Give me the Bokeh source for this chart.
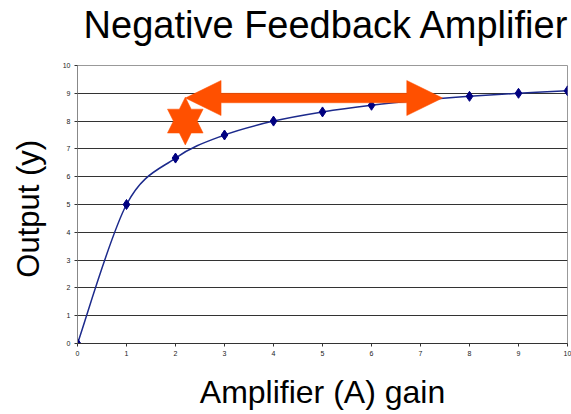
import numpy as np
from bokeh.plotting import figure
from bokeh.models import Range1d, FixedTicker, Label
from bokeh.embed import file_html
from bokeh.resources import INLINE

# ---- data ----
gain = [0, 1, 2, 3, 4, 5, 6, 7, 8, 9, 10]
output = [0.0, 5.0, 6.67, 7.5, 8.0, 8.33, 8.57, 8.75, 8.89, 9.0, 9.09]
x_ticks = [0, 1, 2, 3, 4, 5, 6, 7, 8, 9, 10]
y_ticks = [0, 1, 2, 3, 4, 5, 6, 7, 8, 9, 10]
title_text = "Negative Feedback Amplifier"
x_label = "Amplifier (A) gain"
y_label = "Output  (y)"

# annotation anchors (data units)
arrow_y = 8.83
arrow_x_left = 2.2
arrow_x_right = 7.45
star_x = 2.2
star_y = 8.0

ORANGE = "#FF5000"
NAVY = "#000080"
LINE = "#1C2A8C"
FONT = "Liberation Sans"

p = figure(width=571, height=414, x_range=Range1d(0, 10), y_range=Range1d(0, 10),
           output_backend="svg", toolbar_location=None,
           min_border_left=77, min_border_right=4, min_border_top=65, min_border_bottom=71)
p.background_fill_color = "white"
p.border_fill_color = "white"
p.outline_line_color = "#999999"

# title placed in the top panel (screen units)
p.add_layout(Label(x=249, y=41, x_units="screen", y_units="screen", text=title_text,
                   text_align="center", text_baseline="alphabetic",
                   text_font=FONT, text_font_size="38px", text_color="black"), "above")

# axes
for ax in (p.xaxis[0], p.yaxis[0]):
    ax.major_label_text_font = FONT
    ax.major_label_text_font_size = "7px"
    ax.major_label_text_color = "#222222"
    ax.major_tick_out = 3
    ax.major_tick_in = 0
    ax.minor_tick_out = 0
    ax.minor_tick_in = 0
    ax.axis_label_text_font = FONT
    ax.axis_label_text_font_style = "normal"
    ax.axis_label_text_color = "black"
    ax.major_label_standoff = 4
p.xaxis.axis_label_text_font_size = "32px"
p.yaxis.axis_label_text_font_size = "31px"
p.xaxis.ticker = FixedTicker(ticks=x_ticks)
p.yaxis.ticker = FixedTicker(ticks=y_ticks)
p.xaxis.axis_label = x_label
p.yaxis.axis_label = y_label
p.xaxis.axis_label_standoff = 15
p.yaxis.axis_label_standoff = 14
p.xaxis.axis_line_color = "#333333"
p.yaxis.axis_line_color = "#888888"
p.xaxis.major_tick_line_color = "#333333"
p.yaxis.major_tick_line_color = "#333333"

p.xgrid.grid_line_color = None
p.ygrid.grid_line_color = "#333333"
p.ygrid.grid_line_width = 1

# smoothed line (Catmull-Rom style bezier segments through the data points)
xs = np.array(gain, dtype=float)
ys = np.array(output, dtype=float)
n = len(xs)
xp = np.concatenate([[xs[0]], xs, [xs[-1]]])
yp = np.concatenate([[ys[0]], ys, [ys[-1]]])
x0 = xs[:-1]; y0 = ys[:-1]; x1 = xs[1:]; y1 = ys[1:]
cx0 = xs[:-1] + (xp[2:n + 1] - xp[0:n - 1]) / 6.0
cy0 = ys[:-1] + (yp[2:n + 1] - yp[0:n - 1]) / 6.0
cx1 = xs[1:] - (xp[3:n + 2] - xp[1:n]) / 6.0
cy1 = ys[1:] - (yp[3:n + 2] - yp[1:n]) / 6.0
p.bezier(x0=x0, y0=y0, x1=x1, y1=y1, cx0=cx0, cy0=cy0, cx1=cx1, cy1=cy1,
         line_color=LINE, line_width=1.5)
p.scatter(gain, output, marker="diamond", size=10, color=NAVY)

# double-headed arrow
hl, hh, sh = 0.73, 0.63, 0.17
ax_pts = [arrow_x_left, arrow_x_left + hl, arrow_x_left + hl, arrow_x_right - hl, arrow_x_right - hl,
          arrow_x_right, arrow_x_right - hl, arrow_x_right - hl, arrow_x_left + hl, arrow_x_left + hl]
ay_pts = [arrow_y, arrow_y + hh, arrow_y + sh, arrow_y + sh, arrow_y + hh,
          arrow_y, arrow_y - hh, arrow_y - sh, arrow_y - sh, arrow_y - hh]
p.patch(ax_pts, ay_pts, fill_color=ORANGE, line_color=ORANGE, line_width=0.5)

# six-pointed star
rx, ry = 0.42, 0.86
ang = np.deg2rad(90 + 30 * np.arange(12))
rad = np.where(np.arange(12) % 2 == 0, 1.0, 1.0 / np.sqrt(3))
sx = star_x + rx * rad * np.cos(ang)
sy = star_y + ry * rad * np.sin(ang)
p.patch(list(sx), list(sy), fill_color=ORANGE, line_color=ORANGE, line_width=0.5)

open("out.html", "w").write(file_html(p, INLINE))
